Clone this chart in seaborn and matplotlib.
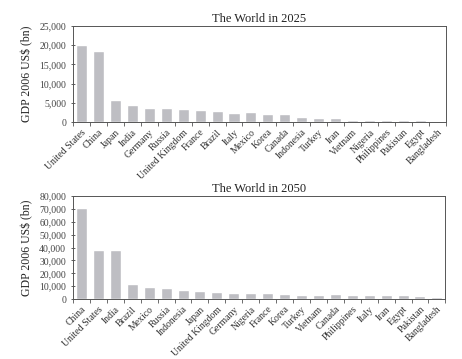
import matplotlib
matplotlib.use("Agg")
import matplotlib.pyplot as plt
import matplotlib.ticker as mticker
import seaborn as sns
import pandas as pd

countries_2025 = ["United States", "China", "Japan", "India", "Germany", "Russia",
                  "United Kingdom", "France", "Brazil", "Italy", "Mexico", "Korea",
                  "Canada", "Indonesia", "Turkey", "Iran", "Vietnam", "Nigeria",
                  "Philippines", "Pakistan", "Egypt", "Bangladesh"]
gdp_2025 = [20000, 18500, 5800, 4500, 3750, 3600, 3400, 3150, 2950, 2350, 2500, 2000,
            2000, 1400, 1100, 950, 600, 600, 650, 600, 650, 350]

countries_2050 = ["China", "United States", "India", "Brazil", "Mexico", "Russia",
                  "Indonesia", "Japan", "United Kingdom", "Germany", "Nigeria", "France",
                  "Korea", "Turkey", "Vietnam", "Canada", "Philippines", "Italy", "Iran",
                  "Egypt", "Pakistan", "Bangladesh"]
gdp_2050 = [70700, 38000, 38000, 11400, 9300, 8600, 7000, 6600, 5200, 5000, 4650, 4600,
            4000, 3500, 3500, 3600, 2900, 2900, 2800, 2800, 2100, 1300]

yticks_2025 = [0, 5000, 10000, 15000, 20000, 25000]
yticks_2050 = [0, 10000, 20000, 30000, 40000, 50000, 60000, 70000, 80000]

sns.set_theme(style="white")
plt.rcParams["font.family"] = ["Liberation Serif", "DejaVu Serif"]

fig = plt.figure(figsize=(4.62, 3.59), dpi=100)
ax1 = fig.add_axes([0.158, 0.660, 0.807, 0.268])
ax2 = fig.add_axes([0.158, 0.167, 0.806, 0.287])

bar_color = "#bebec3"

def draw(ax, cats, vals, yt, title):
    df = pd.DataFrame({"country": cats, "gdp": vals})
    sns.barplot(data=df, x="country", y="gdp", order=cats, color=bar_color,
                width=0.65, ax=ax, saturation=1)
    ax.set_xlim(-0.5, len(cats) - 0.5)
    ax.set_ylim(yt[0], yt[-1])
    ax.set_yticks(yt)
    ax.yaxis.set_major_formatter(mticker.FuncFormatter(lambda v, p: f"{int(v):,}"))
    ax.set_xlabel("")
    ax.set_ylabel("GDP 2006 US$ (bn)", fontsize=8.5, color="#222222", labelpad=4)
    ax.set_title(title, fontsize=9, color="#222222", pad=3)
    ax.set_xticks(range(len(cats)))
    ax.set_xticklabels(cats, rotation=45, ha="right", rotation_mode="anchor",
                       fontsize=7, color="#333333")
    ax.tick_params(axis="x", which="major", length=0, pad=4)
    ax.set_xticks([i + 0.5 for i in range(-1, len(cats))], minor=True)
    ax.tick_params(axis="x", which="minor", length=3, width=0.6, color="#555555",
                   direction="out", bottom=True)
    ax.tick_params(axis="y", labelsize=7, colors="#444444", length=3, width=0.6,
                   direction="inout", left=True)
    for s in ax.spines.values():
        s.set_visible(True)
        s.set_color("#555555")
        s.set_linewidth(0.7)

draw(ax1, countries_2025, gdp_2025, yticks_2025, "The World in 2025")
draw(ax2, countries_2050, gdp_2050, yticks_2050, "The World in 2050")

fig.savefig("out.png", dpi=100, facecolor="white")
